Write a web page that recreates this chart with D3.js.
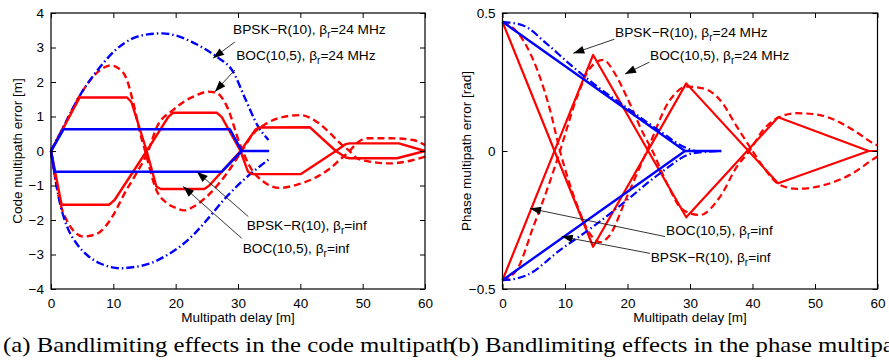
<!DOCTYPE html>
<html>
<head>
<meta charset="utf-8">
<script src="https://cdn.jsdelivr.net/npm/d3@7"></script>
<style>
  body { margin: 0; background: #fff; }
</style>
</head>
<body>
<script>
// ---- data: [delay m, error] ----
const delayTicks = [0, 10, 20, 30, 40, 50, 60];
const codeTicks = [-4, -3, -2, -1, 0, 1, 2, 3, 4];
const phaseTicks = [-0.5, 0, 0.5];

// code multipath error [m]
const codeBpskInfUp = [[0,0],[2,0.63],[28.7,0.63],[30.6,0],[35,0]];
const codeBpskInfLow = [[0,0],[0.6,-0.6],[27.4,-0.6],[30.6,0]];
const codeBocInfA = [[0,0],[4.6,1.55],[12.2,1.55],[12.9,1.42],[15.35,0],[16.9,-1.03],[17.6,-1.1],[24.6,-1.1],[25.4,-1.0],[30.4,0],[32.8,0.62],[33.4,0.68],[41.5,0.69],[45.7,0],[47.3,-0.19],[47.9,-0.21],[55.5,-0.21],[60,0]];
const codeBocInfB = [[0,0],[1.7,-1.56],[9.3,-1.56],[10.2,-1.42],[15.35,0],[18.8,0.98],[19.6,1.11],[26.6,1.11],[27.4,0.98],[30.4,0],[31.6,-0.6],[32.2,-0.67],[40.1,-0.67],[45.7,0],[47.3,0.2],[47.9,0.22],[55.8,0.22],[60,0]];
const codeBpsk24Up = [[0,0],[2,0.7],[4.6,1.6],[7.9,2.44],[10.5,2.95],[13.2,3.27],[15.5,3.38],[17.8,3.41],[20,3.35],[22.5,3.17],[24.6,2.97],[26.6,2.73],[29.2,2.3],[31.2,1.5],[33.2,0.72],[34.9,0.32]];
const codeBpsk24Low = [[0,0],[0.7,-0.8],[1.45,-1.52],[2.6,-2.2],[4.1,-2.68],[6,-3.05],[7.9,-3.26],[9.5,-3.36],[11.1,-3.4],[13.5,-3.36],[15.9,-3.26],[18.3,-3.05],[20.7,-2.77],[23,-2.4],[25,-2.0],[28.2,-1.32],[31.9,-0.68],[34.9,-0.25]];
const codeBoc24A = [[0,0],[2,0.7],[4.6,1.6],[7,2.2],[8.5,2.42],[9.5,2.48],[10.8,2.4],[12.1,2.1],[13.2,1.4],[14.3,0.52],[15.1,0],[16.9,-1.13],[18.5,-1.5],[20.2,-1.66],[21.3,-1.72],[23,-1.6],[25,-1.32],[28.2,-0.65],[30.6,0],[32.5,0.51],[34.6,0.8],[37.3,0.99],[40,1.04],[42.6,0.85],[44.8,0.51],[46.4,0.22],[47.9,0],[49,-0.2],[51.2,-0.31],[54.4,-0.36],[58.1,-0.26],[60,-0.16]];
const codeBoc24B = [[0,0],[0.5,-0.6],[1.45,-1.5],[2.5,-2.0],[3.8,-2.35],[5.2,-2.48],[6.5,-2.45],[7.9,-2.34],[9.5,-2.0],[12.1,-1.13],[13.7,-0.65],[15.6,0],[17,0.7],[19.6,1.19],[21.5,1.45],[23.4,1.62],[25.2,1.72],[26.6,1.68],[28.2,1.3],[30.3,0.2],[31.9,-0.45],[34.1,-0.89],[36.7,-1.07],[39.4,-0.98],[42.1,-0.8],[44.8,-0.5],[46.4,-0.24],[47.9,0],[49,0.22],[50.7,0.37],[54.4,0.37],[58.1,0.32],[60,0.17]];

// phase multipath error [rad]
const phaseBpskInfUp = [[0,0.468],[29.2,0],[35,0]];
const phaseBpskInfLow = [[0,-0.468],[29.2,0]];
const phaseBpsk24Up = [[0,0.468],[3.3,0.455],[7,0.39],[11,0.31],[14.5,0.245],[20,0.155],[25,0.075],[29.5,0.01],[31,0],[35,0]];
const phaseBpsk24Low = [[0,-0.468],[1.5,-0.465],[3.9,-0.45],[9.2,-0.359],[14.5,-0.274],[19.9,-0.178],[25.2,-0.081],[30.5,-0.008],[35,0]];
const phaseBocInfA = [[0,0.468],[14.5,-0.347],[29.4,0.245],[44.1,-0.117],[58.6,0],[60,0]];
const phaseBocInfB = [[0,-0.468],[14.5,0.348],[29.4,-0.24],[44.1,0.122],[58.6,0],[60,0]];
const phaseBoc24A = [[0,0.468],[1.5,0.45],[3.9,0.378],[7.6,0.149],[9.2,0],[12,-0.2],[14,-0.3],[15.6,-0.33],[17,-0.31],[19.9,-0.166],[23.1,0],[26.8,0.185],[29.5,0.233],[32.1,0.227],[34.8,0.185],[37.5,0.088],[40,0],[41.7,-0.057],[44.4,-0.123],[47.1,-0.137],[50.8,-0.127],[56.1,-0.08],[59.3,-0.03],[60,-0.02]];
const phaseBoc24B = [[0,-0.468],[2.3,-0.43],[5,-0.27],[7.6,-0.11],[9.2,0],[12,0.2],[14,0.3],[16.1,0.33],[18,0.28],[20,0.19],[22.5,0.064],[24,0],[26.3,-0.117],[28.9,-0.214],[31.6,-0.232],[34.8,-0.166],[37.5,-0.057],[39.5,0],[41.7,0.076],[44.4,0.124],[47.1,0.137],[50.8,0.13],[56.1,0.076],[59.3,0.028],[60,0.02]];

// ---- page ----
const width = 889, height = 363;
const plotTop = 13, plotBottom = 289;
const red = '#ff0000', blue = '#0000ff';
const sans = '"Liberation Sans", Arial, Helvetica, sans-serif';
const serif = '"Liberation Serif", "DejaVu Serif", serif';

const svg = d3.select('body').append('svg')
  .attr('width', width)
  .attr('height', height);

const smooth = d3.curveMonotoneX;
const sharp = d3.curveLinear;
const dashed = '7,4';
const dashDot = '8,3,1.5,3';

function drawPanel(p) {
  const x = d3.scaleLinear().domain([0, 60]).range([p.left, p.right]);
  const y = d3.scaleLinear().domain(p.yDomain).range([plotBottom, plotTop]);
  const g = svg.append('g');

  // series
  p.series.forEach(s => {
    const line = d3.line().x(d => x(d[0])).y(d => y(d[1])).curve(s.curve);
    g.append('path')
      .attr('d', line(s.data))
      .attr('fill', 'none')
      .attr('stroke', s.color)
      .attr('stroke-width', s.width)
      .attr('stroke-dasharray', s.dash)
      .attr('stroke-linejoin', 'round');
  });

  // axes with inward ticks on all four sides
  const fmt = d => d3.format(p.tickFmt)(d).replace('-', '\u2212');
  g.append('g')
    .attr('transform', `translate(0,${plotBottom})`)
    .call(d3.axisBottom(x).tickValues(delayTicks).tickSize(-5).tickPadding(9).tickFormat(d3.format('d')));
  g.append('g')
    .attr('transform', `translate(0,${plotTop})`)
    .call(d3.axisTop(x).tickValues(delayTicks).tickSize(-5).tickFormat(''));
  g.append('g')
    .attr('transform', `translate(${p.left},0)`)
    .call(d3.axisLeft(y).tickValues(p.yTicks).tickSize(-5).tickPadding(7).tickFormat(fmt));
  g.append('g')
    .attr('transform', `translate(${p.right},0)`)
    .call(d3.axisRight(y).tickValues(p.yTicks).tickSize(-5).tickFormat(''));
  g.selectAll('.domain').remove();
  g.selectAll('.tick line').attr('stroke', '#000').attr('stroke-width', 1);
  g.selectAll('.tick text')
    .attr('font-family', sans).attr('font-size', 13.5).attr('fill', '#000');

  g.append('rect')
    .attr('x', p.left).attr('y', plotTop)
    .attr('width', p.right - p.left).attr('height', plotBottom - plotTop)
    .attr('fill', 'none').attr('stroke', '#000').attr('stroke-width', 1.2);

  // axis titles
  g.append('text')
    .attr('x', (p.left + p.right) / 2).attr('y', 322)
    .attr('text-anchor', 'middle')
    .attr('font-family', sans).attr('font-size', 13.5)
    .text('Multipath delay [m]');
  g.append('text')
    .attr('transform', `translate(${p.yTitleX},${(plotTop + plotBottom) / 2}) rotate(-90)`)
    .attr('text-anchor', 'middle')
    .attr('font-family', sans).attr('font-size', 13.5)
    .text(p.yTitle);

  // annotations with arrows
  p.notes.forEach(n => {
    const t = g.append('text')
      .attr('x', x(n.text[0])).attr('y', y(n.text[1]))
      .attr('font-family', sans).attr('font-size', 13.7);
    t.append('tspan').text(n.label[0] + ', \u03b2');
    t.append('tspan').attr('dy', 4).attr('font-size', 10).text('r');
    t.append('tspan').attr('dy', -4).text(n.label[1]);

    const x1 = x(n.from[0]), y1 = y(n.from[1]);
    const x2 = x(n.tip[0]), y2 = y(n.tip[1]);
    g.append('line')
      .attr('x1', x1).attr('y1', y1).attr('x2', x2).attr('y2', y2)
      .attr('stroke', '#000').attr('stroke-width', 0.8);
    const a = Math.atan2(y2 - y1, x2 - x1);
    const len = 11, half = 4;
    const bx = x2 - len * Math.cos(a), by = y2 - len * Math.sin(a);
    const pts = [
      [x2, y2],
      [bx + half * Math.sin(a), by - half * Math.cos(a)],
      [bx - half * Math.sin(a), by + half * Math.cos(a)]
    ];
    g.append('polygon')
      .attr('points', pts.map(q => q.join(',')).join(' '))
      .attr('fill', '#000');
  });
}

drawPanel({
  left: 51, right: 425,
  yDomain: [-4, 4], yTicks: codeTicks, tickFmt: 'd',
  yTitle: 'Code multipath error [m]', yTitleX: 21.5,
  series: [
    {data: codeBoc24A, color: red, width: 2.4, dash: dashed, curve: smooth},
    {data: codeBoc24B, color: red, width: 2.4, dash: dashed, curve: smooth},
    {data: codeBpsk24Up, color: blue, width: 2.4, dash: dashDot, curve: smooth},
    {data: codeBpsk24Low, color: blue, width: 2.4, dash: dashDot, curve: smooth},
    {data: codeBocInfA, color: red, width: 2.4, dash: null, curve: sharp},
    {data: codeBocInfB, color: red, width: 2.4, dash: null, curve: sharp},
    {data: codeBpskInfUp, color: blue, width: 2.6, dash: null, curve: sharp},
    {data: codeBpskInfLow, color: blue, width: 2.6, dash: null, curve: sharp}
  ],
  notes: [
    {label: ['BPSK\u2212R(10)', '=24 MHz'], text: [29.2, 3.39], from: [29.5, 3.16], tip: [26.0, 2.69]},
    {label: ['BOC(10,5)', '=24 MHz'], text: [29.7, 2.64], from: [29.5, 2.35], tip: [26.3, 1.72]},
    {label: ['BPSK\u2212R(10)', '=inf'], text: [31.4, -2.29], from: [31.65, -1.9], tip: [23.4, -0.6]},
    {label: ['BOC(10,5)', '=inf'], text: [30.75, -2.96], from: [30.6, -2.53], tip: [21.2, -1.03]}
  ]
});

drawPanel({
  left: 502.5, right: 877.5,
  yDomain: [-0.5, 0.5], yTicks: phaseTicks, tickFmt: '.1~f',
  yTitle: 'Phase multipath error [rad]', yTitleX: 470.5,
  series: [
    {data: phaseBoc24A, color: red, width: 2.2, dash: dashed, curve: smooth},
    {data: phaseBoc24B, color: red, width: 2.2, dash: dashed, curve: smooth},
    {data: phaseBocInfA, color: red, width: 2.2, dash: null, curve: sharp},
    {data: phaseBocInfB, color: red, width: 2.2, dash: null, curve: sharp},
    {data: phaseBpsk24Up, color: blue, width: 2.2, dash: dashDot, curve: smooth},
    {data: phaseBpsk24Low, color: blue, width: 2.2, dash: dashDot, curve: smooth},
    {data: phaseBpskInfUp, color: blue, width: 2.4, dash: null, curve: sharp},
    {data: phaseBpskInfLow, color: blue, width: 2.4, dash: null, curve: sharp}
  ],
  notes: [
    {label: ['BPSK\u2212R(10)', '=24 MHz'], text: [18.0, 0.414], from: [17.9, 0.405], tip: [11.33, 0.354]},
    {label: ['BOC(10,5)', '=24 MHz'], text: [23.6, 0.33], from: [23.5, 0.322], tip: [19.6, 0.279]},
    {label: ['BOC(10,5)', '=inf'], text: [26.16, -0.304], from: [26.0, -0.31], tip: [4.4, -0.208]},
    {label: ['BPSK\u2212R(10)', '=inf'], text: [23.7, -0.401], from: [23.6, -0.371], tip: [9.47, -0.31]}
  ]
});

// sub-figure captions: the source uses a wide LaTeX serif, so stretch to its width;
// the second caption runs past the window edge, as in the source
const capA = svg.append('text')
  .attr('x', 3).attr('y', 352)
  .attr('font-family', serif).attr('font-size', 22)
  .text('(a) Bandlimiting effects in the code multipath');
const capB = svg.append('text')
  .attr('x', 450).attr('y', 352)
  .attr('font-family', serif).attr('font-size', 22)
  .text('(b) Bandlimiting effects in the phase multipath');
const k = 452 / capA.node().getComputedTextLength();
[capA, capB].forEach(c => {
  c.attr('textLength', c.node().getComputedTextLength() * k)
   .attr('lengthAdjust', 'spacingAndGlyphs');
});
</script>
</body>
</html>
